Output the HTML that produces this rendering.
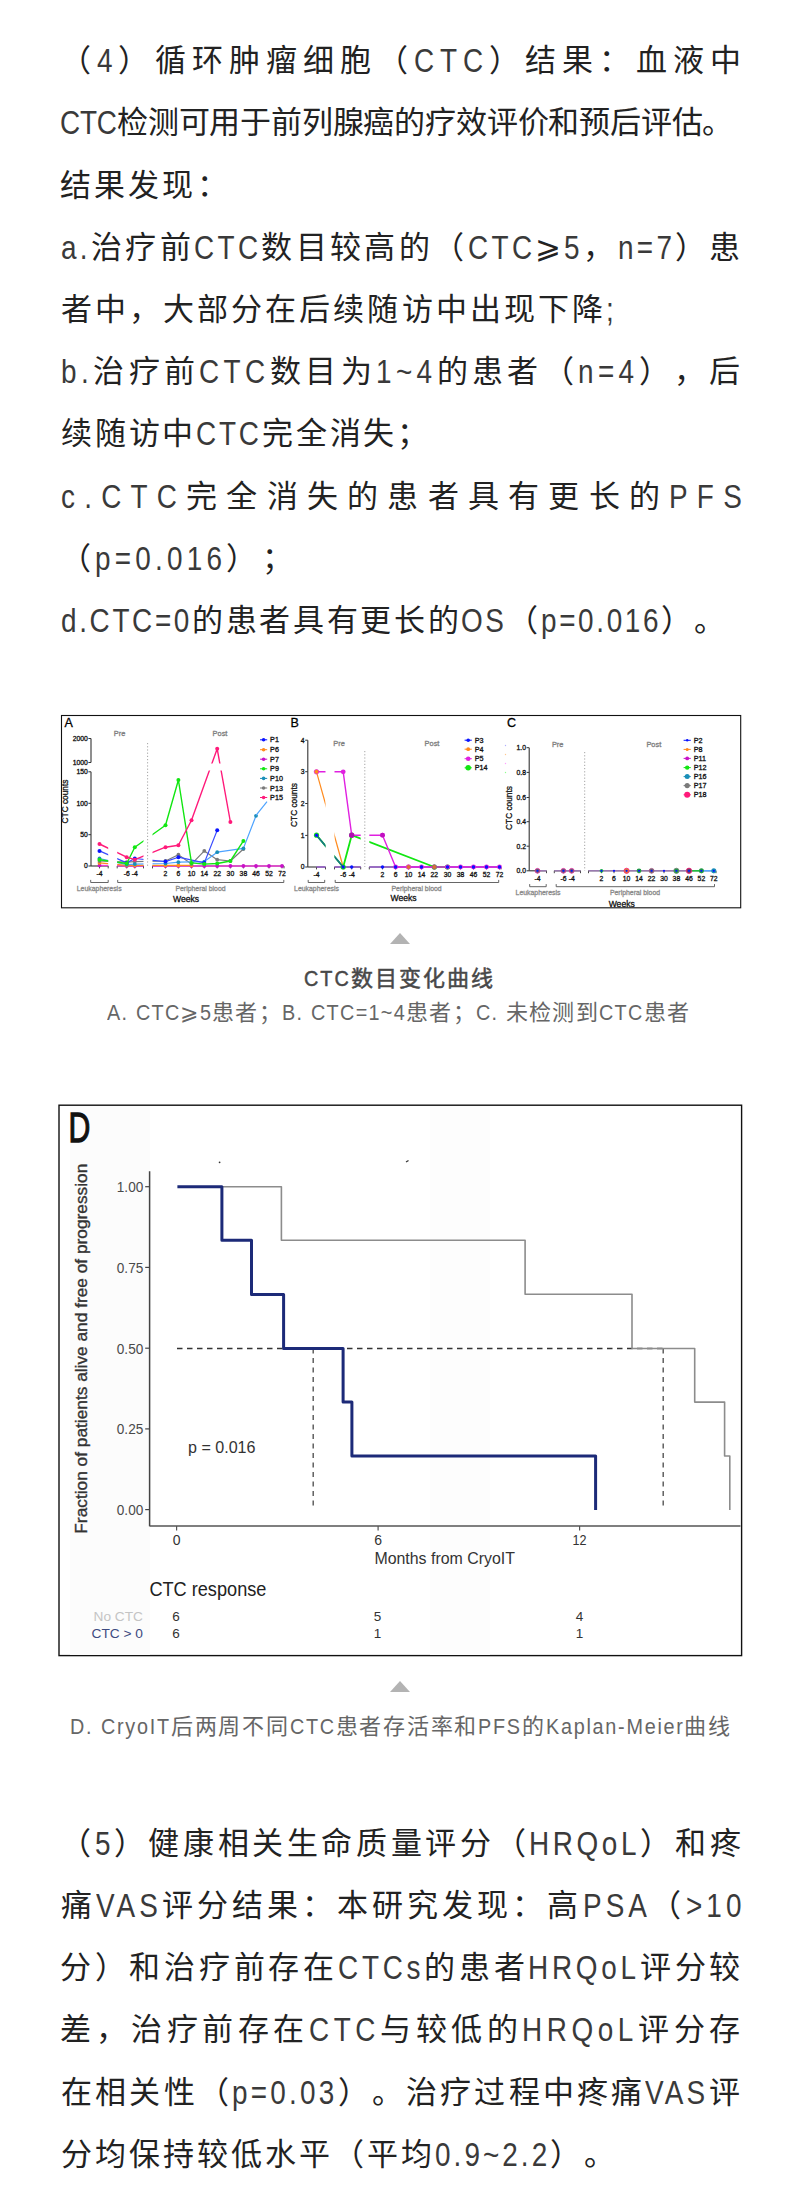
<!DOCTYPE html>
<html lang="zh-CN"><head><meta charset="utf-8">
<style>
html,body{margin:0;padding:0;background:#fff;}
body{width:800px;height:2203px;position:relative;overflow:hidden;font-family:"Liberation Sans",sans-serif;}
.t{position:absolute;white-space:pre;line-height:40px;height:40px;text-spacing-trim:space-all;}
.l{display:inline-block;transform:scaleX(0.9);transform-origin:0 0;}
.tri{position:absolute;width:0;height:0;border-left:10px solid transparent;border-right:10px solid transparent;border-bottom:11px solid #b3b3b3;}
svg{position:absolute;}
</style></head><body>
<div class="t" style="left:60.00px;top:41.26px;font-size:31px;letter-spacing:5.895px;color:#222">（<span class="l" style="letter-spacing:6.972px;margin-right:-3.91px;font-size:33px;transform:scaleX(0.8455);color:#3a3a3a;vertical-align:-1px">4</span>）循环肿瘤细胞（<span class="l" style="letter-spacing:6.972px;margin-right:-13.72px;font-size:33px;transform:scaleX(0.8455);color:#3a3a3a;vertical-align:-1px">CTC</span>）结果：血液中</div>
<div class="t" style="left:60.10px;top:103.46px;font-size:31px;letter-spacing:-0.182px;color:#222"><span class="l" style="letter-spacing:-0.215px;margin-right:-10.38px;font-size:33px;transform:scaleX(0.8455);color:#3a3a3a;vertical-align:-1px">CTC</span>检测可用于前列腺癌的疗效评价和预后评估。</div>
<div class="t" style="left:60.00px;top:165.66px;font-size:31px;letter-spacing:3.125px;color:#222">结果发现：</div>
<div class="t" style="left:60.90px;top:227.86px;font-size:31px;letter-spacing:3.354px;color:#222"><span class="l" style="letter-spacing:3.967px;margin-right:-5.48px;font-size:33px;transform:scaleX(0.8455);color:#3a3a3a;vertical-align:-1px">a.</span>治疗前<span class="l" style="letter-spacing:3.967px;margin-right:-12.32px;font-size:33px;transform:scaleX(0.8455);color:#3a3a3a;vertical-align:-1px">CTC</span>数目较高的（<span class="l" style="letter-spacing:3.967px;margin-right:-12.32px;font-size:33px;transform:scaleX(0.8455);color:#3a3a3a;vertical-align:-1px">CTC</span>⩾<span class="l" style="letter-spacing:3.967px;margin-right:-3.45px;font-size:33px;transform:scaleX(0.8455);color:#3a3a3a;vertical-align:-1px">5</span>，<span class="l" style="letter-spacing:3.967px;margin-right:-10.49px;font-size:33px;transform:scaleX(0.8455);color:#3a3a3a;vertical-align:-1px">n=7</span>）患</div>
<div class="t" style="left:60.90px;top:290.06px;font-size:31px;letter-spacing:3.063px;color:#222">者中，大部分在后续随访中出现下降<span class="l" style="letter-spacing:3.622px;margin-right:-1.98px;font-size:33px;transform:scaleX(0.8455);color:#3a3a3a;vertical-align:-1px">;</span></div>
<div class="t" style="left:61.10px;top:352.26px;font-size:31px;letter-spacing:4.391px;color:#222"><span class="l" style="letter-spacing:5.194px;margin-right:-5.86px;font-size:33px;transform:scaleX(0.8455);color:#3a3a3a;vertical-align:-1px">b.</span>治疗前<span class="l" style="letter-spacing:5.194px;margin-right:-12.89px;font-size:33px;transform:scaleX(0.8455);color:#3a3a3a;vertical-align:-1px">CTC</span>数目为<span class="l" style="letter-spacing:5.194px;margin-right:-11.06px;font-size:33px;transform:scaleX(0.8455);color:#3a3a3a;vertical-align:-1px">1~4</span>的患者（<span class="l" style="letter-spacing:5.194px;margin-right:-11.06px;font-size:33px;transform:scaleX(0.8455);color:#3a3a3a;vertical-align:-1px">n=4</span>），后</div>
<div class="t" style="left:60.90px;top:414.46px;font-size:31px;letter-spacing:2.818px;color:#222">续随访中<span class="l" style="letter-spacing:3.333px;margin-right:-12.03px;font-size:33px;transform:scaleX(0.8455);color:#3a3a3a;vertical-align:-1px">CTC</span>完全消失；</div>
<div class="t" style="left:60.90px;top:476.66px;font-size:31px;letter-spacing:9.237px;color:#222"><span class="l" style="letter-spacing:10.925px;margin-right:-22.89px;font-size:33px;transform:scaleX(0.8455);color:#3a3a3a;vertical-align:-1px">c.CTC</span>完全消失的患者具有更长的<span class="l" style="letter-spacing:10.925px;margin-right:-14.99px;font-size:33px;transform:scaleX(0.8455);color:#3a3a3a;vertical-align:-1px">PFS</span></div>
<div class="t" style="left:60.00px;top:538.86px;font-size:31px;letter-spacing:4.222px;color:#222">（<span class="l" style="letter-spacing:4.994px;margin-right:-23.98px;font-size:33px;transform:scaleX(0.8455);color:#3a3a3a;vertical-align:-1px">p=0.016</span>）；</div>
<div class="t" style="left:61.00px;top:601.06px;font-size:31px;letter-spacing:2.654px;color:#222"><span class="l" style="letter-spacing:3.139px;margin-right:-23.95px;font-size:33px;transform:scaleX(0.8455);color:#3a3a3a;vertical-align:-1px">d.CTC=0</span>的患者具有更长的<span class="l" style="letter-spacing:3.139px;margin-right:-8.34px;font-size:33px;transform:scaleX(0.8455);color:#3a3a3a;vertical-align:-1px">OS</span>（<span class="l" style="letter-spacing:3.139px;margin-right:-21.98px;font-size:33px;transform:scaleX(0.8455);color:#3a3a3a;vertical-align:-1px">p=0.016</span>）。</div>
<div class="t" style="left:60.00px;top:1823.76px;font-size:31px;letter-spacing:3.619px;color:#222">（<span class="l" style="letter-spacing:4.281px;margin-right:-3.50px;font-size:33px;transform:scaleX(0.8455);color:#3a3a3a;vertical-align:-1px">5</span>）健康相关生命质量评分（<span class="l" style="letter-spacing:4.281px;margin-right:-20.31px;font-size:33px;transform:scaleX(0.8455);color:#3a3a3a;vertical-align:-1px">HRQoL</span>）和疼</div>
<div class="t" style="left:61.00px;top:1885.96px;font-size:31px;letter-spacing:4.045px;color:#222">痛<span class="l" style="letter-spacing:4.785px;margin-right:-12.05px;font-size:33px;transform:scaleX(0.8455);color:#3a3a3a;vertical-align:-1px">VAS</span>评分结果：本研究发现：高<span class="l" style="letter-spacing:4.785px;margin-right:-12.43px;font-size:33px;transform:scaleX(0.8455);color:#3a3a3a;vertical-align:-1px">PSA</span>（<span class="l" style="letter-spacing:4.785px;margin-right:-10.87px;font-size:33px;transform:scaleX(0.8455);color:#3a3a3a;vertical-align:-1px">&gt;10</span></div>
<div class="t" style="left:60.00px;top:1948.16px;font-size:31px;letter-spacing:3.727px;color:#222">分）和治疗前存在<span class="l" style="letter-spacing:4.409px;margin-right:-15.76px;font-size:33px;transform:scaleX(0.8455);color:#3a3a3a;vertical-align:-1px">CTCs</span>的患者<span class="l" style="letter-spacing:4.409px;margin-right:-20.41px;font-size:33px;transform:scaleX(0.8455);color:#3a3a3a;vertical-align:-1px">HRQoL</span>评分较</div>
<div class="t" style="left:60.00px;top:2010.36px;font-size:31px;letter-spacing:4.571px;color:#222">差，治疗前存在<span class="l" style="letter-spacing:5.407px;margin-right:-12.99px;font-size:33px;transform:scaleX(0.8455);color:#3a3a3a;vertical-align:-1px">CTC</span>与较低的<span class="l" style="letter-spacing:5.407px;margin-right:-21.19px;font-size:33px;transform:scaleX(0.8455);color:#3a3a3a;vertical-align:-1px">HRQoL</span>评分存</div>
<div class="t" style="left:61.00px;top:2072.56px;font-size:31px;letter-spacing:3.217px;color:#222">在相关性（<span class="l" style="letter-spacing:3.806px;margin-right:-19.27px;font-size:33px;transform:scaleX(0.8455);color:#3a3a3a;vertical-align:-1px">p=0.03</span>）。治疗过程中疼痛<span class="l" style="letter-spacing:3.806px;margin-right:-11.59px;font-size:33px;transform:scaleX(0.8455);color:#3a3a3a;vertical-align:-1px">VAS</span>评</div>
<div class="t" style="left:60.50px;top:2134.76px;font-size:31px;letter-spacing:3.053px;color:#222">分均保持较低水平（平均<span class="l" style="letter-spacing:3.611px;margin-right:-21.07px;font-size:33px;transform:scaleX(0.8455);color:#3a3a3a;vertical-align:-1px">0.9~2.2</span>）。</div>
<div class="t" style="left:304.00px;top:959.38px;font-size:22px;letter-spacing:2.000px;color:#484848;-webkit-text-stroke:0.5px #484848"><span class="l" style="letter-spacing:2.222px;margin-right:-5.19px">CTC</span>数目变化曲线</div>
<div class="t" style="left:107.00px;top:993.38px;font-size:22px;letter-spacing:1.314px;color:#666"><span class="l" style="letter-spacing:1.460px;margin-right:-2.37px">A.</span> <span class="l" style="letter-spacing:1.460px;margin-right:-4.96px">CTC</span>⩾<span class="l" style="letter-spacing:1.460px;margin-right:-1.37px">5</span>患者；<span class="l" style="letter-spacing:1.460px;margin-right:-2.37px">B.</span> <span class="l" style="letter-spacing:1.460px;margin-right:-10.56px">CTC=1~4</span>患者；<span class="l" style="letter-spacing:1.460px;margin-right:-2.49px">C.</span> 未检测到<span class="l" style="letter-spacing:1.460px;margin-right:-4.96px">CTC</span>患者</div>
<div class="t" style="left:70.00px;top:1707.38px;font-size:22px;letter-spacing:1.737px;color:#666"><span class="l" style="letter-spacing:1.931px;margin-right:-2.59px">D.</span> <span class="l" style="letter-spacing:1.931px;margin-right:-7.76px">CryoIT</span>后两周不同<span class="l" style="letter-spacing:1.931px;margin-right:-5.10px">CTC</span>患者存活率和<span class="l" style="letter-spacing:1.931px;margin-right:-4.86px">PFS</span>的<span class="l" style="letter-spacing:1.931px;margin-right:-15.40px">Kaplan-Meier</span>曲线</div>
<div class="tri" style="left:390px;top:933px"></div>
<div class="tri" style="left:390px;top:1681px"></div>
<svg style="left:0;top:0" width="800" height="920" viewBox="0 0 800 920">
<g style="font-family:'Liberation Sans',sans-serif">
<rect x="61.5" y="715.5" width="679.2" height="192.3" fill="#fff" stroke="#111" stroke-width="1.1"/>
<text x="64.5" y="727.3" font-size="12.5" fill="#000" text-anchor="start" stroke="#000" stroke-width="0.3" >A</text>
<line x1="91" y1="738.5" x2="91" y2="762.5" stroke="#333" stroke-width="1.1" />
<line x1="91" y1="771.8" x2="91" y2="866" stroke="#333" stroke-width="1.1" />
<line x1="88.4" y1="738.5" x2="91" y2="738.5" stroke="#333" stroke-width="1" />
<text x="87.8" y="740.9" font-size="6.8" fill="#111" text-anchor="end" stroke="#111" stroke-width="0.3" >2000</text>
<line x1="88.4" y1="762.5" x2="91" y2="762.5" stroke="#333" stroke-width="1" />
<text x="87.8" y="764.9" font-size="6.8" fill="#111" text-anchor="end" stroke="#111" stroke-width="0.3" >1000</text>
<line x1="88.4" y1="771.8" x2="91" y2="771.8" stroke="#333" stroke-width="1" />
<text x="87.8" y="774.2" font-size="6.8" fill="#111" text-anchor="end" stroke="#111" stroke-width="0.3" >150</text>
<line x1="88.4" y1="803.3" x2="91" y2="803.3" stroke="#333" stroke-width="1" />
<text x="87.8" y="805.7" font-size="6.8" fill="#111" text-anchor="end" stroke="#111" stroke-width="0.3" >100</text>
<line x1="88.4" y1="834.7" x2="91" y2="834.7" stroke="#333" stroke-width="1" />
<text x="87.8" y="837.1" font-size="6.8" fill="#111" text-anchor="end" stroke="#111" stroke-width="0.3" >50</text>
<line x1="88.4" y1="866" x2="91" y2="866" stroke="#333" stroke-width="1" />
<text x="87.8" y="868.4" font-size="6.8" fill="#111" text-anchor="end" stroke="#111" stroke-width="0.3" >0</text>
<text x="65" y="801.5" font-size="8.3" fill="#111" text-anchor="middle" stroke="#111" stroke-width="0.3" transform="rotate(-90 65 801.5)" dy="3">CTC counts</text>
<text x="119.5" y="736.3" font-size="7.4" fill="#808080" text-anchor="middle" stroke="#808080" stroke-width="0.3" >Pre</text>
<text x="220" y="736.3" font-size="7.4" fill="#808080" text-anchor="middle" stroke="#808080" stroke-width="0.3" >Post</text>
<line x1="147.6" y1="743" x2="147.6" y2="866" stroke="#9a9a9a" stroke-width="0.9" stroke-dasharray="1.2 2"/>
<line x1="91" y1="866" x2="108.2" y2="866" stroke="#333" stroke-width="1.1" />
<line x1="108.2" y1="866" x2="108.2" y2="868.4" stroke="#333" stroke-width="0.9" />
<line x1="117.2" y1="866" x2="143.5" y2="866" stroke="#333" stroke-width="1.1" />
<line x1="143.5" y1="866" x2="143.5" y2="868.4" stroke="#333" stroke-width="0.9" />
<line x1="117.2" y1="866" x2="117.2" y2="868.4" stroke="#333" stroke-width="0.9" />
<line x1="152.5" y1="866" x2="284" y2="866" stroke="#333" stroke-width="1.1" />
<line x1="284" y1="866" x2="284" y2="868.4" stroke="#333" stroke-width="0.9" />
<line x1="152.5" y1="866" x2="152.5" y2="868.4" stroke="#333" stroke-width="0.9" />
<line x1="99.5" y1="866" x2="99.5" y2="868.4" stroke="#333" stroke-width="0.9" />
<text x="99.5" y="876.3" font-size="6.8" fill="#111" text-anchor="middle" stroke="#111" stroke-width="0.3" >-4</text>
<line x1="126.7" y1="866" x2="126.7" y2="868.4" stroke="#333" stroke-width="0.9" />
<text x="126.7" y="876.3" font-size="6.8" fill="#111" text-anchor="middle" stroke="#111" stroke-width="0.3" >-6</text>
<line x1="134.8" y1="866" x2="134.8" y2="868.4" stroke="#333" stroke-width="0.9" />
<text x="134.8" y="876.3" font-size="6.8" fill="#111" text-anchor="middle" stroke="#111" stroke-width="0.3" >-4</text>
<line x1="165.5" y1="866" x2="165.5" y2="868.4" stroke="#333" stroke-width="0.9" />
<text x="165.5" y="876.3" font-size="6.8" fill="#111" text-anchor="middle" stroke="#111" stroke-width="0.3" >2</text>
<line x1="178.4" y1="866" x2="178.4" y2="868.4" stroke="#333" stroke-width="0.9" />
<text x="178.4" y="876.3" font-size="6.8" fill="#111" text-anchor="middle" stroke="#111" stroke-width="0.3" >6</text>
<line x1="191.5" y1="866" x2="191.5" y2="868.4" stroke="#333" stroke-width="0.9" />
<text x="191.5" y="876.3" font-size="6.8" fill="#111" text-anchor="middle" stroke="#111" stroke-width="0.3" >10</text>
<line x1="204.3" y1="866" x2="204.3" y2="868.4" stroke="#333" stroke-width="0.9" />
<text x="204.3" y="876.3" font-size="6.8" fill="#111" text-anchor="middle" stroke="#111" stroke-width="0.3" >14</text>
<line x1="217.2" y1="866" x2="217.2" y2="868.4" stroke="#333" stroke-width="0.9" />
<text x="217.2" y="876.3" font-size="6.8" fill="#111" text-anchor="middle" stroke="#111" stroke-width="0.3" >22</text>
<line x1="230.4" y1="866" x2="230.4" y2="868.4" stroke="#333" stroke-width="0.9" />
<text x="230.4" y="876.3" font-size="6.8" fill="#111" text-anchor="middle" stroke="#111" stroke-width="0.3" >30</text>
<line x1="243.4" y1="866" x2="243.4" y2="868.4" stroke="#333" stroke-width="0.9" />
<text x="243.4" y="876.3" font-size="6.8" fill="#111" text-anchor="middle" stroke="#111" stroke-width="0.3" >38</text>
<line x1="256" y1="866" x2="256" y2="868.4" stroke="#333" stroke-width="0.9" />
<text x="256" y="876.3" font-size="6.8" fill="#111" text-anchor="middle" stroke="#111" stroke-width="0.3" >46</text>
<line x1="269" y1="866" x2="269" y2="868.4" stroke="#333" stroke-width="0.9" />
<text x="269" y="876.3" font-size="6.8" fill="#111" text-anchor="middle" stroke="#111" stroke-width="0.3" >52</text>
<line x1="282" y1="866" x2="282" y2="868.4" stroke="#333" stroke-width="0.9" />
<text x="282" y="876.3" font-size="6.8" fill="#111" text-anchor="middle" stroke="#111" stroke-width="0.3" >72</text>
<polyline points="90.7,879.9 90.7,882.5 108.2,882.5 108.2,879.9" fill="none" stroke="#555" stroke-width="0.9"/>
<polyline points="117.7,879.9 117.7,882.5 283.8,882.5 283.8,879.9" fill="none" stroke="#555" stroke-width="0.9"/>
<text x="99.2" y="891.2" font-size="6.9" fill="#8a8a8a" text-anchor="middle" stroke="#8a8a8a" stroke-width="0.3" >Leukapheresis</text>
<text x="200.5" y="891.2" font-size="6.9" fill="#8a8a8a" text-anchor="middle" stroke="#8a8a8a" stroke-width="0.3" >Peripheral blood</text>
<text x="186" y="902" font-size="8.6" fill="#111" text-anchor="middle" stroke="#111" stroke-width="0.3" >Weeks</text>
<line x1="260" y1="739.8" x2="267.2" y2="739.8" stroke="#0a14ff" stroke-width="1" />
<circle cx="263.6" cy="739.8" r="1.8" fill="#0a14ff"/>
<text x="270.1" y="742.3" font-size="7.2" fill="#111" text-anchor="start" stroke="#111" stroke-width="0.3" >P1</text>
<line x1="260" y1="749.7" x2="267.2" y2="749.7" stroke="#ff8a1c" stroke-width="1" />
<circle cx="263.6" cy="749.7" r="1.8" fill="#ff8a1c"/>
<text x="270.1" y="752.2" font-size="7.2" fill="#111" text-anchor="start" stroke="#111" stroke-width="0.3" >P6</text>
<line x1="260" y1="759.2" x2="267.2" y2="759.2" stroke="#c812c8" stroke-width="1" />
<circle cx="263.6" cy="759.2" r="1.8" fill="#c812c8"/>
<text x="270.1" y="761.7" font-size="7.2" fill="#111" text-anchor="start" stroke="#111" stroke-width="0.3" >P7</text>
<line x1="260" y1="768.8" x2="267.2" y2="768.8" stroke="#12e612" stroke-width="1" />
<circle cx="263.6" cy="768.8" r="1.8" fill="#12e612"/>
<text x="270.1" y="771.3" font-size="7.2" fill="#111" text-anchor="start" stroke="#111" stroke-width="0.3" >P9</text>
<line x1="260" y1="778.4" x2="267.2" y2="778.4" stroke="#1a8fb8" stroke-width="1" />
<circle cx="263.6" cy="778.4" r="1.8" fill="#1a8fb8"/>
<text x="270.1" y="780.9" font-size="7.2" fill="#111" text-anchor="start" stroke="#111" stroke-width="0.3" >P10</text>
<line x1="260" y1="788" x2="267.2" y2="788" stroke="#7a7a7a" stroke-width="1" />
<circle cx="263.6" cy="788" r="1.8" fill="#7a7a7a"/>
<text x="270.1" y="790.5" font-size="7.2" fill="#111" text-anchor="start" stroke="#111" stroke-width="0.3" >P13</text>
<line x1="260" y1="797.5" x2="267.2" y2="797.5" stroke="#ff1a7a" stroke-width="1" />
<circle cx="263.6" cy="797.5" r="1.8" fill="#ff1a7a"/>
<text x="270.1" y="800" font-size="7.2" fill="#111" text-anchor="start" stroke="#111" stroke-width="0.3" >P15</text>
<clipPath id="cA">
<rect x="91" y="730" width="17.2" height="33.5"/>
<rect x="91" y="770.5" width="17.2" height="99.5"/>
<rect x="117.2" y="730" width="26.3" height="33.5"/>
<rect x="117.2" y="770.5" width="26.3" height="99.5"/>
<rect x="152.5" y="730" width="131.5" height="33.5"/>
<rect x="152.5" y="770.5" width="131.5" height="99.5"/>
</clipPath>
<polyline points="99.5,865.4 126.7,866 134.8,866 165.5,866 178.4,866 191.5,866 204.3,866 217.2,866 230.4,866 243.4,866 256,866 269,866 282,866" fill="none" stroke="#f03cd8" stroke-width="1.3" stroke-linejoin="round" clip-path="url(#cA)"/>
<circle cx="99.5" cy="865.4" r="1.9" fill="#c812c8"/>
<circle cx="126.7" cy="866" r="1.9" fill="#c812c8"/>
<circle cx="134.8" cy="866" r="1.9" fill="#c812c8"/>
<circle cx="165.5" cy="866" r="1.9" fill="#c812c8"/>
<circle cx="178.4" cy="866" r="1.9" fill="#c812c8"/>
<circle cx="191.5" cy="866" r="1.9" fill="#c812c8"/>
<circle cx="204.3" cy="866" r="1.9" fill="#c812c8"/>
<circle cx="217.2" cy="866" r="1.9" fill="#c812c8"/>
<circle cx="230.4" cy="866" r="1.9" fill="#c812c8"/>
<circle cx="243.4" cy="866" r="1.9" fill="#c812c8"/>
<circle cx="256" cy="866" r="1.9" fill="#c812c8"/>
<circle cx="269" cy="866" r="1.9" fill="#c812c8"/>
<circle cx="282" cy="866" r="1.9" fill="#c812c8"/>
<polyline points="99.5,862.9 126.7,865.4 134.8,865.4 165.5,865.4 178.4,865.4 191.5,865.4" fill="none" stroke="#ff8a1c" stroke-width="1.2" stroke-linejoin="round" clip-path="url(#cA)"/>
<circle cx="99.5" cy="862.9" r="1.9" fill="#ff8a1c"/>
<circle cx="126.7" cy="865.4" r="1.9" fill="#ff8a1c"/>
<circle cx="134.8" cy="865.4" r="1.9" fill="#ff8a1c"/>
<circle cx="165.5" cy="865.4" r="1.9" fill="#ff8a1c"/>
<circle cx="178.4" cy="865.4" r="1.9" fill="#ff8a1c"/>
<circle cx="191.5" cy="865.4" r="1.9" fill="#ff8a1c"/>
<polyline points="99.5,861 126.7,862.2 134.8,861.6 165.5,861 178.4,854.7 191.5,864.1 204.3,850.9 217.2,859.7 230.4,861 243.4,849" fill="none" stroke="#7a7a7a" stroke-width="1.2" stroke-linejoin="round" clip-path="url(#cA)"/>
<circle cx="99.5" cy="861" r="1.9" fill="#7a7a7a"/>
<circle cx="126.7" cy="862.2" r="1.9" fill="#7a7a7a"/>
<circle cx="134.8" cy="861.6" r="1.9" fill="#7a7a7a"/>
<circle cx="165.5" cy="861" r="1.9" fill="#7a7a7a"/>
<circle cx="178.4" cy="854.7" r="1.9" fill="#7a7a7a"/>
<circle cx="191.5" cy="864.1" r="1.9" fill="#7a7a7a"/>
<circle cx="204.3" cy="850.9" r="1.9" fill="#7a7a7a"/>
<circle cx="217.2" cy="859.7" r="1.9" fill="#7a7a7a"/>
<circle cx="230.4" cy="861" r="1.9" fill="#7a7a7a"/>
<circle cx="243.4" cy="849" r="1.9" fill="#7a7a7a"/>
<polyline points="99.5,858.5 126.7,864.7 134.8,864.1 165.5,863.5 178.4,862.2 204.3,861.6 217.2,852.2 243.4,848.4 256,815.8" fill="none" stroke="#4da3ff" stroke-width="1.2" stroke-linejoin="round" clip-path="url(#cA)"/>
<circle cx="99.5" cy="858.5" r="1.9" fill="#1a8fb8"/>
<circle cx="126.7" cy="864.7" r="1.9" fill="#1a8fb8"/>
<circle cx="134.8" cy="864.1" r="1.9" fill="#1a8fb8"/>
<circle cx="165.5" cy="863.5" r="1.9" fill="#1a8fb8"/>
<circle cx="178.4" cy="862.2" r="1.9" fill="#1a8fb8"/>
<circle cx="204.3" cy="861.6" r="1.9" fill="#1a8fb8"/>
<circle cx="217.2" cy="852.2" r="1.9" fill="#1a8fb8"/>
<circle cx="243.4" cy="848.4" r="1.9" fill="#1a8fb8"/>
<circle cx="256" cy="815.8" r="1.9" fill="#1a8fb8"/>
<polyline points="256,815.4 267,801.7" fill="none" stroke="#4da3ff" stroke-width="1.2" stroke-linejoin="round" />
<polyline points="99.5,850.9 126.7,862.9 134.8,858.5 165.5,861.6 178.4,857.2 204.3,862.9 217.2,830.2" fill="none" stroke="#3a4cff" stroke-width="1.2" stroke-linejoin="round" clip-path="url(#cA)"/>
<circle cx="99.5" cy="850.9" r="2.0" fill="#0a14ff"/>
<circle cx="126.7" cy="862.9" r="2.0" fill="#0a14ff"/>
<circle cx="134.8" cy="858.5" r="2.0" fill="#0a14ff"/>
<circle cx="165.5" cy="861.6" r="2.0" fill="#0a14ff"/>
<circle cx="178.4" cy="857.2" r="2.0" fill="#0a14ff"/>
<circle cx="204.3" cy="862.9" r="2.0" fill="#0a14ff"/>
<circle cx="217.2" cy="830.2" r="2.0" fill="#0a14ff"/>
<polyline points="99.5,859.7 126.7,863.5 134.8,847.2 165.5,825.2 178.4,780 191.5,862.9 204.3,864.1 217.2,863.5 230.4,861 243.4,840.9" fill="none" stroke="#12e612" stroke-width="1.4" stroke-linejoin="round" clip-path="url(#cA)"/>
<circle cx="99.5" cy="859.7" r="2.0" fill="#12e612"/>
<circle cx="126.7" cy="863.5" r="2.0" fill="#12e612"/>
<circle cx="134.8" cy="847.2" r="2.0" fill="#12e612"/>
<circle cx="165.5" cy="825.2" r="2.0" fill="#12e612"/>
<circle cx="178.4" cy="780" r="2.0" fill="#12e612"/>
<circle cx="191.5" cy="862.9" r="2.0" fill="#12e612"/>
<circle cx="204.3" cy="864.1" r="2.0" fill="#12e612"/>
<circle cx="217.2" cy="863.5" r="2.0" fill="#12e612"/>
<circle cx="230.4" cy="861" r="2.0" fill="#12e612"/>
<circle cx="243.4" cy="840.9" r="2.0" fill="#12e612"/>
<polyline points="99.5,844 126.7,857.2 134.8,859.7 165.5,847.2 178.4,845.3 191.5,820.2 217.2,748.8 230.4,822" fill="none" stroke="#ff1a7a" stroke-width="1.4" stroke-linejoin="round" clip-path="url(#cA)"/>
<circle cx="99.5" cy="844" r="2.0" fill="#ff1a7a"/>
<circle cx="126.7" cy="857.2" r="2.0" fill="#ff1a7a"/>
<circle cx="134.8" cy="859.7" r="2.0" fill="#ff1a7a"/>
<circle cx="165.5" cy="847.2" r="2.0" fill="#ff1a7a"/>
<circle cx="178.4" cy="845.3" r="2.0" fill="#ff1a7a"/>
<circle cx="191.5" cy="820.2" r="2.0" fill="#ff1a7a"/>
<circle cx="217.2" cy="748.8" r="2.0" fill="#ff1a7a"/>
<circle cx="230.4" cy="822" r="2.0" fill="#ff1a7a"/>
<text x="290.5" y="727" font-size="12.5" fill="#000" text-anchor="start" stroke="#000" stroke-width="0.3" >B</text>
<line x1="307.8" y1="740.2" x2="307.8" y2="867" stroke="#333" stroke-width="1.1" />
<line x1="305.2" y1="740.2" x2="307.8" y2="740.2" stroke="#333" stroke-width="1" />
<text x="304.6" y="742.6" font-size="6.8" fill="#111" text-anchor="end" stroke="#111" stroke-width="0.3" >4</text>
<line x1="305.2" y1="771.7" x2="307.8" y2="771.7" stroke="#333" stroke-width="1" />
<text x="304.6" y="774.1" font-size="6.8" fill="#111" text-anchor="end" stroke="#111" stroke-width="0.3" >3</text>
<line x1="305.2" y1="803.5" x2="307.8" y2="803.5" stroke="#333" stroke-width="1" />
<text x="304.6" y="805.9" font-size="6.8" fill="#111" text-anchor="end" stroke="#111" stroke-width="0.3" >2</text>
<line x1="305.2" y1="835.4" x2="307.8" y2="835.4" stroke="#333" stroke-width="1" />
<text x="304.6" y="837.8" font-size="6.8" fill="#111" text-anchor="end" stroke="#111" stroke-width="0.3" >1</text>
<line x1="305.2" y1="867" x2="307.8" y2="867" stroke="#333" stroke-width="1" />
<text x="304.6" y="869.4" font-size="6.8" fill="#111" text-anchor="end" stroke="#111" stroke-width="0.3" >0</text>
<text x="294" y="805" font-size="8.3" fill="#111" text-anchor="middle" stroke="#111" stroke-width="0.3" transform="rotate(-90 294 805)" dy="3">CTC counts</text>
<text x="339" y="745.5" font-size="7.4" fill="#808080" text-anchor="middle" stroke="#808080" stroke-width="0.3" >Pre</text>
<text x="432" y="745.5" font-size="7.4" fill="#808080" text-anchor="middle" stroke="#808080" stroke-width="0.3" >Post</text>
<line x1="364.8" y1="751" x2="364.8" y2="867" stroke="#9a9a9a" stroke-width="0.9" stroke-dasharray="1.2 2"/>
<line x1="307.8" y1="867" x2="325.5" y2="867" stroke="#333" stroke-width="1.1" />
<line x1="325.5" y1="867" x2="325.5" y2="869.4" stroke="#333" stroke-width="0.9" />
<line x1="334.5" y1="867" x2="360.7" y2="867" stroke="#333" stroke-width="1.1" />
<line x1="360.7" y1="867" x2="360.7" y2="869.4" stroke="#333" stroke-width="0.9" />
<line x1="334.5" y1="867" x2="334.5" y2="869.4" stroke="#333" stroke-width="0.9" />
<line x1="369.3" y1="867" x2="501" y2="867" stroke="#333" stroke-width="1.1" />
<line x1="501" y1="867" x2="501" y2="869.4" stroke="#333" stroke-width="0.9" />
<line x1="369.3" y1="867" x2="369.3" y2="869.4" stroke="#333" stroke-width="0.9" />
<line x1="316.5" y1="867" x2="316.5" y2="869.4" stroke="#333" stroke-width="0.9" />
<text x="316.5" y="877.2" font-size="6.8" fill="#111" text-anchor="middle" stroke="#111" stroke-width="0.3" >-4</text>
<line x1="343.2" y1="867" x2="343.2" y2="869.4" stroke="#333" stroke-width="0.9" />
<text x="343.2" y="877.2" font-size="6.8" fill="#111" text-anchor="middle" stroke="#111" stroke-width="0.3" >-6</text>
<line x1="351.7" y1="867" x2="351.7" y2="869.4" stroke="#333" stroke-width="0.9" />
<text x="351.7" y="877.2" font-size="6.8" fill="#111" text-anchor="middle" stroke="#111" stroke-width="0.3" >-4</text>
<line x1="382.5" y1="867" x2="382.5" y2="869.4" stroke="#333" stroke-width="0.9" />
<text x="382.5" y="877.2" font-size="6.8" fill="#111" text-anchor="middle" stroke="#111" stroke-width="0.3" >2</text>
<line x1="395.6" y1="867" x2="395.6" y2="869.4" stroke="#333" stroke-width="0.9" />
<text x="395.6" y="877.2" font-size="6.8" fill="#111" text-anchor="middle" stroke="#111" stroke-width="0.3" >6</text>
<line x1="408.5" y1="867" x2="408.5" y2="869.4" stroke="#333" stroke-width="0.9" />
<text x="408.5" y="877.2" font-size="6.8" fill="#111" text-anchor="middle" stroke="#111" stroke-width="0.3" >10</text>
<line x1="421.5" y1="867" x2="421.5" y2="869.4" stroke="#333" stroke-width="0.9" />
<text x="421.5" y="877.2" font-size="6.8" fill="#111" text-anchor="middle" stroke="#111" stroke-width="0.3" >14</text>
<line x1="434.3" y1="867" x2="434.3" y2="869.4" stroke="#333" stroke-width="0.9" />
<text x="434.3" y="877.2" font-size="6.8" fill="#111" text-anchor="middle" stroke="#111" stroke-width="0.3" >22</text>
<line x1="447.5" y1="867" x2="447.5" y2="869.4" stroke="#333" stroke-width="0.9" />
<text x="447.5" y="877.2" font-size="6.8" fill="#111" text-anchor="middle" stroke="#111" stroke-width="0.3" >30</text>
<line x1="460.5" y1="867" x2="460.5" y2="869.4" stroke="#333" stroke-width="0.9" />
<text x="460.5" y="877.2" font-size="6.8" fill="#111" text-anchor="middle" stroke="#111" stroke-width="0.3" >38</text>
<line x1="473.5" y1="867" x2="473.5" y2="869.4" stroke="#333" stroke-width="0.9" />
<text x="473.5" y="877.2" font-size="6.8" fill="#111" text-anchor="middle" stroke="#111" stroke-width="0.3" >46</text>
<line x1="486.5" y1="867" x2="486.5" y2="869.4" stroke="#333" stroke-width="0.9" />
<text x="486.5" y="877.2" font-size="6.8" fill="#111" text-anchor="middle" stroke="#111" stroke-width="0.3" >52</text>
<line x1="499.5" y1="867" x2="499.5" y2="869.4" stroke="#333" stroke-width="0.9" />
<text x="499.5" y="877.2" font-size="6.8" fill="#111" text-anchor="middle" stroke="#111" stroke-width="0.3" >72</text>
<polyline points="308.2,879.9 308.2,882.5 324.7,882.5 324.7,879.9" fill="none" stroke="#555" stroke-width="0.9"/>
<polyline points="335.2,879.9 335.2,882.5 498.7,882.5 498.7,879.9" fill="none" stroke="#555" stroke-width="0.9"/>
<text x="316.5" y="891" font-size="6.9" fill="#8a8a8a" text-anchor="middle" stroke="#8a8a8a" stroke-width="0.3" >Leukapheresis</text>
<text x="416.6" y="891" font-size="6.9" fill="#8a8a8a" text-anchor="middle" stroke="#8a8a8a" stroke-width="0.3" >Peripheral blood</text>
<text x="403.5" y="901" font-size="8.6" fill="#111" text-anchor="middle" stroke="#111" stroke-width="0.3" >Weeks</text>
<line x1="464.6" y1="740.2" x2="471.8" y2="740.2" stroke="#0a14ff" stroke-width="1" />
<circle cx="468.2" cy="740.2" r="1.8" fill="#0a14ff"/>
<text x="474.7" y="742.7" font-size="7.2" fill="#111" text-anchor="start" stroke="#111" stroke-width="0.3" >P3</text>
<line x1="464.6" y1="749.2" x2="471.8" y2="749.2" stroke="#ff8a1c" stroke-width="1" />
<circle cx="468.2" cy="749.2" r="1.9" fill="#ff8a1c"/>
<text x="474.7" y="751.7" font-size="7.2" fill="#111" text-anchor="start" stroke="#111" stroke-width="0.3" >P4</text>
<line x1="464.6" y1="758.7" x2="471.8" y2="758.7" stroke="#e020e0" stroke-width="1" />
<circle cx="468.2" cy="758.7" r="2.3" fill="#e020e0"/>
<text x="474.7" y="761.2" font-size="7.2" fill="#111" text-anchor="start" stroke="#111" stroke-width="0.3" >P5</text>
<line x1="464.6" y1="767.8" x2="471.8" y2="767.8" stroke="#12e612" stroke-width="1" />
<circle cx="468.2" cy="767.8" r="2.7" fill="#12e612"/>
<text x="474.7" y="770.3" font-size="7.2" fill="#111" text-anchor="start" stroke="#111" stroke-width="0.3" >P14</text>
<clipPath id="cB">
<rect x="307.8" y="730" width="17.7" height="145"/>
<rect x="334.5" y="730" width="26.2" height="145"/>
<rect x="369.3" y="730" width="131.7" height="145"/>
</clipPath>
<polyline points="316.5,867 343.2,867 351.7,867 382.5,867 395.6,867 408.5,867 421.5,867 434.3,867 447.5,867 460.5,867 473.5,867 486.5,867 499.5,867" fill="none" stroke="#9a5fd0" stroke-width="1.4" stroke-linejoin="round" clip-path="url(#cB)"/>
<circle cx="316.5" cy="867" r="0" fill="#9a5fd0"/>
<circle cx="343.2" cy="867" r="0" fill="#9a5fd0"/>
<circle cx="351.7" cy="867" r="0" fill="#9a5fd0"/>
<circle cx="382.5" cy="867" r="0" fill="#9a5fd0"/>
<circle cx="395.6" cy="867" r="0" fill="#9a5fd0"/>
<circle cx="408.5" cy="867" r="0" fill="#9a5fd0"/>
<circle cx="421.5" cy="867" r="0" fill="#9a5fd0"/>
<circle cx="434.3" cy="867" r="0" fill="#9a5fd0"/>
<circle cx="447.5" cy="867" r="0" fill="#9a5fd0"/>
<circle cx="460.5" cy="867" r="0" fill="#9a5fd0"/>
<circle cx="473.5" cy="867" r="0" fill="#9a5fd0"/>
<circle cx="486.5" cy="867" r="0" fill="#9a5fd0"/>
<circle cx="499.5" cy="867" r="0" fill="#9a5fd0"/>
<polyline points="316.5,771.8 343.2,867" fill="none" stroke="#ff8a1c" stroke-width="1.2" stroke-linejoin="round" clip-path="url(#cB)"/>
<circle cx="316.5" cy="771.8" r="2.0" fill="#ff8a1c"/>
<circle cx="343.2" cy="867" r="2.0" fill="#ff8a1c"/>
<polyline points="316.5,835.2 343.2,867 351.7,835.2 434.3,867 447.5,867" fill="none" stroke="#12e612" stroke-width="1.8" stroke-linejoin="round" clip-path="url(#cB)"/>
<circle cx="316.5" cy="835.2" r="2.6" fill="#12e612"/>
<circle cx="343.2" cy="867" r="2.6" fill="#12e612"/>
<circle cx="351.7" cy="835.2" r="2.6" fill="#12e612"/>
<circle cx="434.3" cy="867" r="2.6" fill="#12e612"/>
<circle cx="447.5" cy="867" r="2.6" fill="#12e612"/>
<polyline points="316.5,835.2 343.2,867" fill="none" stroke="#17708a" stroke-width="1.6" stroke-linejoin="round" clip-path="url(#cB)"/>
<circle cx="316.5" cy="835.2" r="0" fill="#17708a"/>
<circle cx="343.2" cy="867" r="0" fill="#17708a"/>
<polyline points="316.5,771.8 343.2,771.8 351.7,835.2 382.5,835.2 395.6,867 408.5,867 421.5,867 434.3,867 447.5,867 460.5,867 473.5,867 486.5,867 499.5,867" fill="none" stroke="#e020e0" stroke-width="1.4" stroke-linejoin="round" clip-path="url(#cB)"/>
<circle cx="343.2" cy="771.8" r="2.4" fill="#e020e0"/>
<circle cx="351.7" cy="835.2" r="2.4" fill="#e020e0"/>
<circle cx="382.5" cy="835.2" r="2.4" fill="#e020e0"/>
<circle cx="395.6" cy="867" r="2.4" fill="#e020e0"/>
<circle cx="408.5" cy="867" r="2.4" fill="#e020e0"/>
<circle cx="421.5" cy="867" r="2.4" fill="#e020e0"/>
<circle cx="434.3" cy="867" r="2.4" fill="#e020e0"/>
<circle cx="447.5" cy="867" r="2.4" fill="#e020e0"/>
<circle cx="460.5" cy="867" r="2.4" fill="#e020e0"/>
<circle cx="473.5" cy="867" r="2.4" fill="#e020e0"/>
<circle cx="486.5" cy="867" r="2.4" fill="#e020e0"/>
<circle cx="499.5" cy="867" r="2.4" fill="#e020e0"/>
<circle cx="316.5" cy="835.2" r="1.7" fill="#0a14ff"/>
<circle cx="343.2" cy="867" r="1.7" fill="#0a14ff"/>
<circle cx="351.7" cy="867" r="1.7" fill="#0a14ff"/>
<circle cx="382.5" cy="867" r="1.7" fill="#0a14ff"/>
<circle cx="395.6" cy="867" r="1.7" fill="#0a14ff"/>
<circle cx="408.5" cy="867" r="1.7" fill="#0a14ff"/>
<circle cx="421.5" cy="867" r="1.7" fill="#0a14ff"/>
<circle cx="434.3" cy="867" r="1.7" fill="#0a14ff"/>
<circle cx="447.5" cy="867" r="1.7" fill="#0a14ff"/>
<circle cx="460.5" cy="867" r="1.7" fill="#0a14ff"/>
<circle cx="473.5" cy="867" r="1.7" fill="#0a14ff"/>
<circle cx="486.5" cy="867" r="1.7" fill="#0a14ff"/>
<circle cx="499.5" cy="867" r="1.7" fill="#0a14ff"/>
<circle cx="408.5" cy="867" r="2.2" fill="#e07030" stroke="#e040c0" stroke-width="0.6"/>
<circle cx="434.3" cy="867" r="2.2" fill="#e07030" stroke="#777" stroke-width="0.6"/>
<circle cx="316.5" cy="771.8" r="2.3" fill="#ff8a1c" stroke="#e020e0" stroke-width="0.7"/>
<circle cx="351.7" cy="835.2" r="2.6" fill="#b010b0"/>
<circle cx="382.5" cy="835.2" r="2.4" fill="#c010c0"/>
<text x="507" y="727.3" font-size="12.5" fill="#000" text-anchor="start" stroke="#000" stroke-width="0.3" >C</text>
<line x1="529.2" y1="747.7" x2="529.2" y2="870.8" stroke="#333" stroke-width="1.1" />
<line x1="526.6" y1="747.7" x2="529.2" y2="747.7" stroke="#333" stroke-width="1" />
<text x="526" y="750.1" font-size="6.8" fill="#111" text-anchor="end" stroke="#111" stroke-width="0.3" >1.0</text>
<line x1="526.6" y1="772.4" x2="529.2" y2="772.4" stroke="#333" stroke-width="1" />
<text x="526" y="774.8" font-size="6.8" fill="#111" text-anchor="end" stroke="#111" stroke-width="0.3" >0.8</text>
<line x1="526.6" y1="797.5" x2="529.2" y2="797.5" stroke="#333" stroke-width="1" />
<text x="526" y="799.9" font-size="6.8" fill="#111" text-anchor="end" stroke="#111" stroke-width="0.3" >0.6</text>
<line x1="526.6" y1="821.7" x2="529.2" y2="821.7" stroke="#333" stroke-width="1" />
<text x="526" y="824.1" font-size="6.8" fill="#111" text-anchor="end" stroke="#111" stroke-width="0.3" >0.4</text>
<line x1="526.6" y1="846.2" x2="529.2" y2="846.2" stroke="#333" stroke-width="1" />
<text x="526" y="848.6" font-size="6.8" fill="#111" text-anchor="end" stroke="#111" stroke-width="0.3" >0.2</text>
<line x1="526.6" y1="870.8" x2="529.2" y2="870.8" stroke="#333" stroke-width="1" />
<text x="526" y="873.2" font-size="6.8" fill="#111" text-anchor="end" stroke="#111" stroke-width="0.3" >0.0</text>
<text x="508.5" y="808" font-size="8.3" fill="#111" text-anchor="middle" stroke="#111" stroke-width="0.3" transform="rotate(-90 508.5 808)" dy="3">CTC counts</text>
<text x="557.7" y="746.5" font-size="7.4" fill="#808080" text-anchor="middle" stroke="#808080" stroke-width="0.3" >Pre</text>
<text x="653.8" y="746.5" font-size="7.4" fill="#808080" text-anchor="middle" stroke="#808080" stroke-width="0.3" >Post</text>
<line x1="584.7" y1="752" x2="584.7" y2="870.8" stroke="#9a9a9a" stroke-width="0.9" stroke-dasharray="1.2 2"/>
<line x1="529.2" y1="870.8" x2="546.5" y2="870.8" stroke="#333" stroke-width="1.1" />
<line x1="546.5" y1="870.8" x2="546.5" y2="873.2" stroke="#333" stroke-width="0.9" />
<line x1="554.3" y1="870.8" x2="580.5" y2="870.8" stroke="#333" stroke-width="1.1" />
<line x1="580.5" y1="870.8" x2="580.5" y2="873.2" stroke="#333" stroke-width="0.9" />
<line x1="554.3" y1="870.8" x2="554.3" y2="873.2" stroke="#333" stroke-width="0.9" />
<line x1="588.5" y1="870.8" x2="716" y2="870.8" stroke="#333" stroke-width="1.1" />
<line x1="716" y1="870.8" x2="716" y2="873.2" stroke="#333" stroke-width="0.9" />
<line x1="588.5" y1="870.8" x2="588.5" y2="873.2" stroke="#333" stroke-width="0.9" />
<line x1="537.5" y1="870.8" x2="537.5" y2="873.2" stroke="#333" stroke-width="0.9" />
<text x="537.5" y="881" font-size="6.8" fill="#111" text-anchor="middle" stroke="#111" stroke-width="0.3" >-4</text>
<line x1="563.4" y1="870.8" x2="563.4" y2="873.2" stroke="#333" stroke-width="0.9" />
<text x="563.4" y="881" font-size="6.8" fill="#111" text-anchor="middle" stroke="#111" stroke-width="0.3" >-6</text>
<line x1="571.7" y1="870.8" x2="571.7" y2="873.2" stroke="#333" stroke-width="0.9" />
<text x="571.7" y="881" font-size="6.8" fill="#111" text-anchor="middle" stroke="#111" stroke-width="0.3" >-4</text>
<line x1="601.5" y1="870.8" x2="601.5" y2="873.2" stroke="#333" stroke-width="0.9" />
<text x="601.5" y="881" font-size="6.8" fill="#111" text-anchor="middle" stroke="#111" stroke-width="0.3" >2</text>
<line x1="614" y1="870.8" x2="614" y2="873.2" stroke="#333" stroke-width="0.9" />
<text x="614" y="881" font-size="6.8" fill="#111" text-anchor="middle" stroke="#111" stroke-width="0.3" >6</text>
<line x1="626.6" y1="870.8" x2="626.6" y2="873.2" stroke="#333" stroke-width="0.9" />
<text x="626.6" y="881" font-size="6.8" fill="#111" text-anchor="middle" stroke="#111" stroke-width="0.3" >10</text>
<line x1="639" y1="870.8" x2="639" y2="873.2" stroke="#333" stroke-width="0.9" />
<text x="639" y="881" font-size="6.8" fill="#111" text-anchor="middle" stroke="#111" stroke-width="0.3" >14</text>
<line x1="651.6" y1="870.8" x2="651.6" y2="873.2" stroke="#333" stroke-width="0.9" />
<text x="651.6" y="881" font-size="6.8" fill="#111" text-anchor="middle" stroke="#111" stroke-width="0.3" >22</text>
<line x1="664" y1="870.8" x2="664" y2="873.2" stroke="#333" stroke-width="0.9" />
<text x="664" y="881" font-size="6.8" fill="#111" text-anchor="middle" stroke="#111" stroke-width="0.3" >30</text>
<line x1="676.4" y1="870.8" x2="676.4" y2="873.2" stroke="#333" stroke-width="0.9" />
<text x="676.4" y="881" font-size="6.8" fill="#111" text-anchor="middle" stroke="#111" stroke-width="0.3" >38</text>
<line x1="689" y1="870.8" x2="689" y2="873.2" stroke="#333" stroke-width="0.9" />
<text x="689" y="881" font-size="6.8" fill="#111" text-anchor="middle" stroke="#111" stroke-width="0.3" >46</text>
<line x1="701.4" y1="870.8" x2="701.4" y2="873.2" stroke="#333" stroke-width="0.9" />
<text x="701.4" y="881" font-size="6.8" fill="#111" text-anchor="middle" stroke="#111" stroke-width="0.3" >52</text>
<line x1="713.8" y1="870.8" x2="713.8" y2="873.2" stroke="#333" stroke-width="0.9" />
<text x="713.8" y="881" font-size="6.8" fill="#111" text-anchor="middle" stroke="#111" stroke-width="0.3" >72</text>
<polyline points="529.7,884.1 529.7,886.7 546.2,886.7 546.2,884.1" fill="none" stroke="#555" stroke-width="0.9"/>
<polyline points="556.2,884.1 556.2,886.7 714.5,886.7 714.5,884.1" fill="none" stroke="#555" stroke-width="0.9"/>
<text x="538" y="895" font-size="6.9" fill="#8a8a8a" text-anchor="middle" stroke="#8a8a8a" stroke-width="0.3" >Leukapheresis</text>
<text x="635" y="895" font-size="6.9" fill="#8a8a8a" text-anchor="middle" stroke="#8a8a8a" stroke-width="0.3" >Peripheral blood</text>
<text x="621.7" y="906.5" font-size="8.6" fill="#111" text-anchor="middle" stroke="#111" stroke-width="0.3" >Weeks</text>
<line x1="683.6" y1="740.3" x2="690.8" y2="740.3" stroke="#0a14ff" stroke-width="1" />
<circle cx="687.2" cy="740.3" r="1.2" fill="#0a14ff"/>
<text x="693.7" y="742.8" font-size="7.2" fill="#111" text-anchor="start" stroke="#111" stroke-width="0.3" >P2</text>
<line x1="683.6" y1="749.4" x2="690.8" y2="749.4" stroke="#ff8a1c" stroke-width="1" />
<circle cx="687.2" cy="749.4" r="1.5" fill="#ff8a1c"/>
<text x="693.7" y="751.9" font-size="7.2" fill="#111" text-anchor="start" stroke="#111" stroke-width="0.3" >P8</text>
<line x1="683.6" y1="758.4" x2="690.8" y2="758.4" stroke="#c812c8" stroke-width="1" />
<circle cx="687.2" cy="758.4" r="1.9" fill="#c812c8"/>
<text x="693.7" y="760.9" font-size="7.2" fill="#111" text-anchor="start" stroke="#111" stroke-width="0.3" >P11</text>
<line x1="683.6" y1="767.6" x2="690.8" y2="767.6" stroke="#12e612" stroke-width="1" />
<circle cx="687.2" cy="767.6" r="2.2" fill="#12e612"/>
<text x="693.7" y="770.1" font-size="7.2" fill="#111" text-anchor="start" stroke="#111" stroke-width="0.3" >P12</text>
<line x1="683.6" y1="776.6" x2="690.8" y2="776.6" stroke="#1a8fb8" stroke-width="1" />
<circle cx="687.2" cy="776.6" r="2.5" fill="#1a8fb8"/>
<text x="693.7" y="779.1" font-size="7.2" fill="#111" text-anchor="start" stroke="#111" stroke-width="0.3" >P16</text>
<line x1="683.6" y1="785.6" x2="690.8" y2="785.6" stroke="#7a7a7a" stroke-width="1" />
<circle cx="687.2" cy="785.6" r="2.6" fill="#7a7a7a"/>
<text x="693.7" y="788.1" font-size="7.2" fill="#111" text-anchor="start" stroke="#111" stroke-width="0.3" >P17</text>
<line x1="683.6" y1="794.8" x2="690.8" y2="794.8" stroke="#ff1a7a" stroke-width="1" />
<circle cx="687.2" cy="794.8" r="3.0" fill="#ff1a7a"/>
<text x="693.7" y="797.3" font-size="7.2" fill="#111" text-anchor="start" stroke="#111" stroke-width="0.3" >P18</text>
<clipPath id="cC">
<rect x="529.2" y="730" width="17.3" height="150"/>
<rect x="554.3" y="730" width="26.2" height="150"/>
<rect x="588.5" y="730" width="127.5" height="150"/>
</clipPath>
<polyline points="537.5,870.8 563.4,870.8 571.7,870.8 601.5,870.8 614,870.8 626.6,870.8 639,870.8 651.6,870.8 664,870.8 676.4,870.8 689,870.8" fill="none" stroke="#9a7ab0" stroke-width="1.5" stroke-linejoin="round" clip-path="url(#cC)"/>
<circle cx="537.5" cy="870.8" r="0" fill="#9a7ab0"/>
<circle cx="563.4" cy="870.8" r="0" fill="#9a7ab0"/>
<circle cx="571.7" cy="870.8" r="0" fill="#9a7ab0"/>
<circle cx="601.5" cy="870.8" r="0" fill="#9a7ab0"/>
<circle cx="614" cy="870.8" r="0" fill="#9a7ab0"/>
<circle cx="626.6" cy="870.8" r="0" fill="#9a7ab0"/>
<circle cx="639" cy="870.8" r="0" fill="#9a7ab0"/>
<circle cx="651.6" cy="870.8" r="0" fill="#9a7ab0"/>
<circle cx="664" cy="870.8" r="0" fill="#9a7ab0"/>
<circle cx="676.4" cy="870.8" r="0" fill="#9a7ab0"/>
<circle cx="689" cy="870.8" r="0" fill="#9a7ab0"/>
<polyline points="689,870.8 701.4,870.8" fill="none" stroke="#20c040" stroke-width="1.6" stroke-linejoin="round" />
<polyline points="701.4,870.8 713.8,870.8" fill="none" stroke="#5aa8ff" stroke-width="1.6" stroke-linejoin="round" />
<circle cx="537.5" cy="870.8" r="2.4" fill="#6a6a6a" stroke="#e020a0" stroke-width="0.8"/>
<circle cx="537.5" cy="870.8" r="1.1" fill="#0a14ff"/>
<circle cx="563.4" cy="870.8" r="2.4" fill="#6a6a6a" stroke="#e020a0" stroke-width="0.8"/>
<circle cx="563.4" cy="870.8" r="1.1" fill="#0a14ff"/>
<circle cx="571.7" cy="870.8" r="2.4" fill="#6a6a6a" stroke="#e020a0" stroke-width="0.8"/>
<circle cx="571.7" cy="870.8" r="1.1" fill="#0a14ff"/>
<circle cx="601.5" cy="870.8" r="1.9" fill="#20c040"/>
<circle cx="601.5" cy="870.8" r="1.1" fill="#0a14ff"/>
<circle cx="614" cy="870.8" r="1.1" fill="#0a14ff"/>
<circle cx="626.6" cy="870.8" r="2.6" fill="#e08030" stroke="#ff1a7a" stroke-width="0.8"/>
<circle cx="626.6" cy="870.8" r="1.1" fill="#0a14ff"/>
<circle cx="639" cy="870.8" r="2.4" fill="#20a040"/>
<circle cx="639" cy="870.8" r="1.1" fill="#0a14ff"/>
<circle cx="651.6" cy="870.8" r="2.4" fill="#6a6a6a" stroke="#a05080" stroke-width="0.8"/>
<circle cx="651.6" cy="870.8" r="1.1" fill="#0a14ff"/>
<circle cx="664" cy="870.8" r="1.1" fill="#0a14ff"/>
<circle cx="676.4" cy="870.8" r="2.6" fill="#20a040" stroke="#708070" stroke-width="0.8"/>
<circle cx="676.4" cy="870.8" r="1.1" fill="#0a14ff"/>
<circle cx="689" cy="870.8" r="2.7" fill="#6a4060" stroke="#ff1a7a" stroke-width="0.8"/>
<circle cx="689" cy="870.8" r="1.1" fill="#0a14ff"/>
<circle cx="701.4" cy="870.8" r="2.5" fill="#20a040"/>
<circle cx="701.4" cy="870.8" r="1.1" fill="#0a14ff"/>
<circle cx="713.8" cy="870.8" r="2.5" fill="#1a8fb8"/>
<circle cx="713.8" cy="870.8" r="1.1" fill="#0a14ff"/>
<circle cx="505.5" cy="745.5" r="0.7" fill="#b0b0ff"/>
<circle cx="505.5" cy="754.5" r="0.7" fill="#ffc890"/>
<circle cx="505.5" cy="763.5" r="0.7" fill="#ffa0ff"/>
<circle cx="505.5" cy="772.5" r="0.7" fill="#90ff90"/>
</g></svg><svg style="left:0;top:1090px" width="800" height="580" viewBox="0 1090 800 580">
<g style="font-family:'Liberation Sans',sans-serif">
<rect x="59" y="1105.2" width="682.6" height="550.4" fill="#fff" stroke="#111" stroke-width="1.4"/>
<rect x="70" y="1106" width="80" height="549" fill="#fcfcfc"/>
<rect x="430" y="1106" width="60" height="549" fill="#fdfdfd"/>
<text x="68.6" y="1141.8" font-size="43" fill="#111" text-anchor="start" stroke="#111" stroke-width="1.3" textLength="21.8" lengthAdjust="spacingAndGlyphs">D</text>
<line x1="149.6" y1="1171.2" x2="149.6" y2="1526.3" stroke="#444" stroke-width="1.5" />
<line x1="149.6" y1="1526" x2="740.5" y2="1526" stroke="#555" stroke-width="1.5" />
<line x1="145.2" y1="1186.7" x2="149.6" y2="1186.7" stroke="#444" stroke-width="1.2" />
<text x="143.3" y="1192" font-size="15" fill="#4a4a4a" text-anchor="end" textLength="26.5" lengthAdjust="spacingAndGlyphs">1.00</text>
<line x1="145.2" y1="1267.4" x2="149.6" y2="1267.4" stroke="#444" stroke-width="1.2" />
<text x="143.3" y="1272.7" font-size="15" fill="#4a4a4a" text-anchor="end" textLength="26.5" lengthAdjust="spacingAndGlyphs">0.75</text>
<line x1="145.2" y1="1348.2" x2="149.6" y2="1348.2" stroke="#444" stroke-width="1.2" />
<text x="143.3" y="1353.5" font-size="15" fill="#4a4a4a" text-anchor="end" textLength="26.5" lengthAdjust="spacingAndGlyphs">0.50</text>
<line x1="145.2" y1="1428.9" x2="149.6" y2="1428.9" stroke="#444" stroke-width="1.2" />
<text x="143.3" y="1434.2" font-size="15" fill="#4a4a4a" text-anchor="end" textLength="26.5" lengthAdjust="spacingAndGlyphs">0.25</text>
<line x1="145.2" y1="1509.6" x2="149.6" y2="1509.6" stroke="#444" stroke-width="1.2" />
<text x="143.3" y="1514.9" font-size="15" fill="#4a4a4a" text-anchor="end" textLength="26.5" lengthAdjust="spacingAndGlyphs">0.00</text>
<line x1="176.6" y1="1526" x2="176.6" y2="1530.5" stroke="#555" stroke-width="1.2" />
<text x="176.6" y="1544.5" font-size="14" fill="#333" text-anchor="middle" >0</text>
<line x1="378.1" y1="1526" x2="378.1" y2="1530.5" stroke="#555" stroke-width="1.2" />
<text x="378.1" y="1544.5" font-size="14" fill="#333" text-anchor="middle" >6</text>
<line x1="579.6" y1="1526" x2="579.6" y2="1530.5" stroke="#555" stroke-width="1.2" />
<text x="579.6" y="1544.5" font-size="14" fill="#333" text-anchor="middle" textLength="14" lengthAdjust="spacingAndGlyphs">12</text>
<text x="86.8" y="1348.7" font-size="17.3" fill="#333" text-anchor="middle" stroke="#333" stroke-width="0.35" transform="rotate(-90 86.8 1348.7)" textLength="370" lengthAdjust="spacingAndGlyphs">Fraction of patients alive and free of progression</text>
<line x1="177" y1="1348.5" x2="663.2" y2="1348.5" stroke="#333" stroke-width="1.6" stroke-dasharray="5.5 4.5"/>
<line x1="313.2" y1="1348.5" x2="313.2" y2="1510" stroke="#555" stroke-width="1.4" stroke-dasharray="5 4.5"/>
<line x1="663.2" y1="1348.5" x2="663.2" y2="1510" stroke="#555" stroke-width="1.4" stroke-dasharray="5 4.5"/>
<polyline points="221.9,1186.7 281.4,1186.7 281.4,1240.3 525.1,1240.3 525.1,1294.2 632,1294.2 632,1348.5 694.7,1348.5 694.7,1402.1 724.6,1402.1 724.6,1456 729.8,1456 729.8,1510" fill="none" stroke="#8c8c8c" stroke-width="1.6" stroke-linejoin="round" stroke-linejoin="miter"/>
<polyline points="177.4,1186.7 221.9,1186.7 221.9,1240.3 251.5,1240.3 251.5,1294.6 283.6,1294.6 283.6,1348.5 343.1,1348.5 343.1,1402.1 351.9,1402.1 351.9,1456.1 595.6,1456.1 595.6,1510" fill="none" stroke="#1c2a78" stroke-width="3.0" stroke-linejoin="round" stroke-linejoin="miter"/>
<circle cx="219.6" cy="1162.3" r="0.9" fill="#333"/>
<line x1="406" y1="1162" x2="408.5" y2="1160.5" stroke="#333" stroke-width="1.3"/>
<text x="188" y="1452.5" font-size="16.5" fill="#333" text-anchor="start" textLength="67.5" lengthAdjust="spacingAndGlyphs">p = 0.016</text>
<text x="374.4" y="1563.8" font-size="16" fill="#333" text-anchor="start" textLength="140.6" lengthAdjust="spacingAndGlyphs">Months from CryoIT</text>
<text x="149.4" y="1596.3" font-size="19.5" fill="#222" text-anchor="start" textLength="117" lengthAdjust="spacingAndGlyphs">CTC response</text>
<text x="93.5" y="1621" font-size="13.5" fill="#c4c4c4" text-anchor="start" textLength="49.4" lengthAdjust="spacingAndGlyphs">No CTC</text>
<text x="91.5" y="1638" font-size="13.5" fill="#3c4a80" text-anchor="start" textLength="51.5" lengthAdjust="spacingAndGlyphs">CTC &gt; 0</text>
<text x="176" y="1621.3" font-size="13.5" fill="#333" text-anchor="middle" >6</text>
<text x="176" y="1638.3" font-size="13.5" fill="#333" text-anchor="middle" >6</text>
<text x="377.5" y="1621.3" font-size="13.5" fill="#333" text-anchor="middle" >5</text>
<text x="377.5" y="1638.3" font-size="13.5" fill="#333" text-anchor="middle" >1</text>
<text x="579.5" y="1621.3" font-size="13.5" fill="#333" text-anchor="middle" >4</text>
<text x="579.5" y="1638.3" font-size="13.5" fill="#333" text-anchor="middle" >1</text>
</g></svg>
</body></html>
